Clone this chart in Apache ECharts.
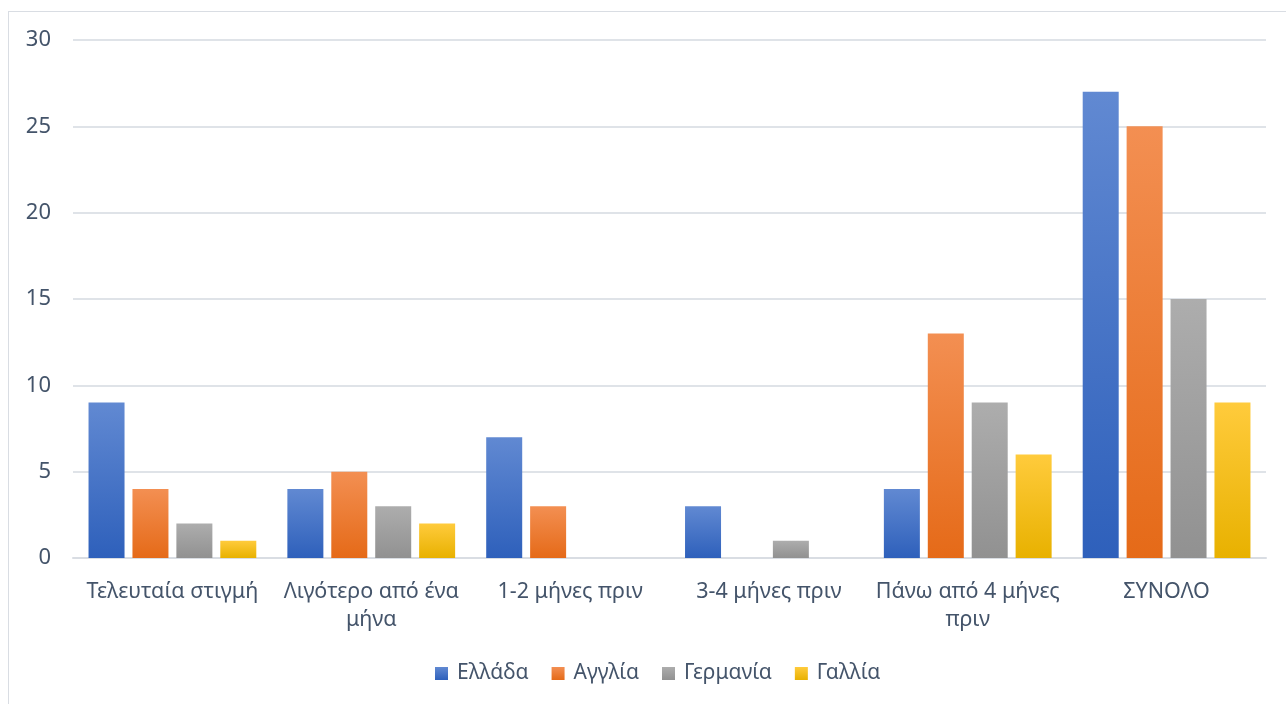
<!DOCTYPE html>
<html lang="el">
<head>
  <meta charset="UTF-8">
  <title>chart</title>
  <style>
    html, body { margin: 0; padding: 0; background: #fff; }
    .frame {
      position: absolute;
      left: 8px;
      top: 11px;
      width: 1290px;
      height: 700px;
      border: 1px solid #d9dde3;
      box-sizing: border-box;
    }
    #chart {
      position: absolute;
      left: 0;
      top: 0;
      width: 1286px;
      height: 704px;
    }
  </style>
</head>
<body>
  <div class="frame"></div>
  <div id="chart"></div>
  <script src="https://cdn.jsdelivr.net/npm/echarts@6/dist/echarts.min.js"></script>
  <script>
    var categories = ['Τελευταία στιγμή', 'Λιγότερο από ένα\nμήνα', '1-2 μήνες πριν', '3-4 μήνες πριν', 'Πάνω από 4 μήνες\nπριν', 'ΣΥΝΟΛΟ'];
    var seriesNames = ['Ελλάδα', 'Αγγλία', 'Γερμανία', 'Γαλλία'];
    var greece = [9, 4, 7, 3, 4, 27];
    var england = [4, 5, 3, 0, 13, 25];
    var germany = [2, 3, 0, 1, 9, 15];
    var france = [1, 2, 0, 0, 6, 9];

    var textColor = '#44546A';
    var fontFamily = '"Noto Sans", "Open Sans", sans-serif';

    // top / bottom colours of each bar gradient
    var shades = [
      ['#6189D2', '#2E60BB'],
      ['#F38F52', '#E56A18'],
      ['#ADADAD', '#919191'],
      ['#FFCB3C', '#E8B100']
    ];

    function grad(c) {
      return new echarts.graphic.LinearGradient(0, 0, 0, 1, [
        { offset: 0, color: c[0] },
        { offset: 1, color: c[1] }
      ]);
    }

    var values = [greece, england, germany, france];

    var myChart = echarts.init(document.getElementById('chart'));
    var option = {
      animation: false,
      textStyle: { fontFamily: fontFamily },
      grid: {
        left: 73,
        right: 20,
        top: 40,
        bottom: 146
      },
      legend: {
        top: 658,
        left: 430,
        itemWidth: 13,
        itemHeight: 13,
        itemGap: 23,
        icon: 'rect',
        textStyle: { color: textColor, fontSize: 21, fontFamily: fontFamily, padding: [0, 0, 0, 4] },
        data: seriesNames.map(function (n, i) {
          return { name: n, itemStyle: { color: grad(shades[i]) } };
        })
      },
      xAxis: {
        type: 'category',
        data: categories,
        axisLine: { lineStyle: { color: '#d9dde3', width: 2 } },
        axisTick: { show: false },
        axisLabel: {
          color: textColor,
          fontSize: 21.5,
          margin: 20,
          lineHeight: 28,
          interval: 0
        }
      },
      yAxis: {
        type: 'value',
        min: 0,
        max: 30,
        interval: 5,
        axisLine: { show: false },
        axisTick: { show: false },
        splitLine: { lineStyle: { color: '#dfe3e8', width: 2 } },
        axisLabel: { color: textColor, fontSize: 22, margin: 22 }
      },
      series: values.map(function (v, i) {
        return {
          name: seriesNames[i],
          type: 'bar',
          data: v,
          barWidth: 36,
          barGap: '22%',
          itemStyle: { color: grad(shades[i]) }
        };
      })
    };
    myChart.setOption(option);
  </script>
</body>
</html>
